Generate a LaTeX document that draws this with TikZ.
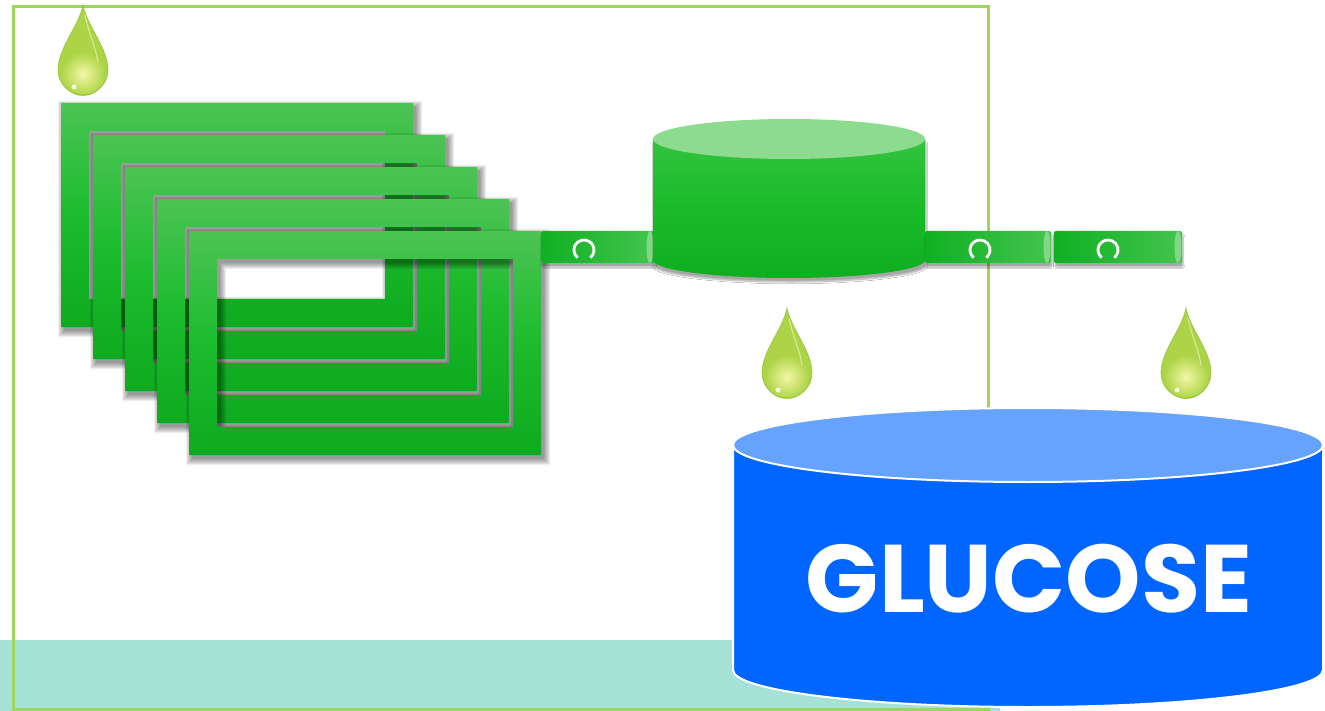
\documentclass[tikz,border=0pt]{standalone}
\usepackage{fontspec}
\newfontfamily\labelfont{Poppins}
\usetikzlibrary{shadows.blur}

\definecolor{borderGreen}{HTML}{9CD65E}
\definecolor{bandTeal}{HTML}{A6E1D6}
\definecolor{frameTop}{HTML}{4CC454}
\definecolor{frameMid}{HTML}{1CBC2E}
\definecolor{frameBot}{HTML}{0EAA20}
\definecolor{pipeDark}{HTML}{10B022}
\definecolor{pipeLight}{HTML}{44C44E}
\definecolor{capGreen}{HTML}{8EDB90}
\definecolor{tankTop}{HTML}{8DDB8F}
\definecolor{tankUpper}{HTML}{33C33F}
\definecolor{tankMid}{HTML}{19BB2A}
\definecolor{tankLow}{HTML}{0FAE21}
\definecolor{blueTop}{HTML}{66A3FF}
\definecolor{blueBody}{HTML}{0066FF}
\definecolor{dropOuter}{HTML}{ADD447}
\definecolor{dropInner}{HTML}{F3F7A6}
\definecolor{dropEdge}{HTML}{8EBE30}

\tikzset{
  softshadow/.style={blur shadow={shadow xshift=1pt, shadow yshift=-4pt,
      shadow blur steps=6, shadow blur extra rounding=2pt, shadow opacity=35}},
  rotor/.style={white, line width=2.8},
  dropbody/.style={fill=dropOuter},
}

% one frame of the filter press: blurred shadow ring, then the shaded ring
\newcommand\filterframe[2]{%
  \foreach \d in {0,...,6}{%
    \fill[black, opacity=0.065, even odd rule]
      ({#1+3-\d},{#2+4-\d}) rectangle ({#1+355+\d},{#2+228+\d})
      ({#1+31+\d},{#2+32+\d}) rectangle ({#1+327-\d},{#2+200-\d});
  }%
  \shade[top color=frameTop, bottom color=frameBot, middle color=frameMid, even odd rule]
    (#1,#2) rectangle ++(352,224) ({#1+28},{#2+28}) rectangle ++(296,168);
}

% pipe segment: start x, end x, pump symbol x
\newcommand\pipesegment[3]{%
  \path[softshadow, left color=pipeDark, right color=pipeLight, rounded corners=2]
    (#1,231) rectangle (#2,263);
  \fill[capGreen, opacity=0.85] ({#2-4},247) ellipse (3.5 and 16);
  \draw[rotor] ({#3+10*cos(50)},{250+10*sin(50)}) arc (50:-230:10);
}

% droplet centred on its round part
\newcommand\droplet[2]{%
  \begin{scope}[shift={(#1,#2)}]
    \def\droppath{(0,-65) .. controls (4,-44) and (25,-22) .. (25,0) arc (0:180:25)
      .. controls (-25,-22) and (-4,-44) .. (0,-65) -- cycle}
    \fill[dropbody] \droppath;
    \shade[inner color=dropInner, outer color=dropOuter] (0,4) circle (22);
    \draw[white, opacity=0.45, line width=1.2] (2,-55) .. controls (6,-36) and (13,-22) .. (15,-8);
    \fill[white, opacity=0.8] (-9,17) circle (2.5);
    \draw[dropEdge, opacity=0.7, line width=0.8] \droppath;
  \end{scope}%
}

\begin{document}
\begin{tikzpicture}[x=1pt, y=-1pt]
  \useasboundingbox (0,0) rectangle (1325,711);
  \fill[white] (0,0) rectangle (1325,711);

  % floor band and outline
  \fill[bandTeal] (0,640) rectangle (1000,711);
  \draw[borderGreen, line width=3] (13,7) rectangle (988,709);

  % filter press plates
  \filterframe{61}{103}
  \filterframe{93}{135}
  \filterframe{125}{167}
  \filterframe{157}{199}
  \filterframe{189}{231}

  % pipe from the press to the tank
  \pipesegment{541}{654}{584}

  % green holding tank
  \path[softshadow, top color=tankUpper, bottom color=tankLow, middle color=tankMid]
    (653,139) -- (653,260) arc (180:0:136 and 18) -- (925,139) -- cycle;
  \fill[tankTop] (789,139) ellipse (136 and 20);

  % outgoing pipes
  \pipesegment{925}{1051}{980}
  \pipesegment{1054}{1182}{1108}

  % droplets
  \droplet{83}{70}
  \droplet{787}{373}
  \droplet{1186}{373}

  % glucose tank
  \path[fill=blueBody, draw=white, line width=2]
    (733,445) -- (733,670) arc (180:0:295 and 37) -- (1323,445) -- cycle;
  \path[fill=blueTop, draw=white, line width=2] (1028,445) ellipse (295 and 37);
  \node[white, anchor=base, inner sep=0pt,
        font=\labelfont\bfseries\fontsize{96}{100}\selectfont] (glucose) at (1029,612) {GLUCOSE};
\end{tikzpicture}
\end{document}
